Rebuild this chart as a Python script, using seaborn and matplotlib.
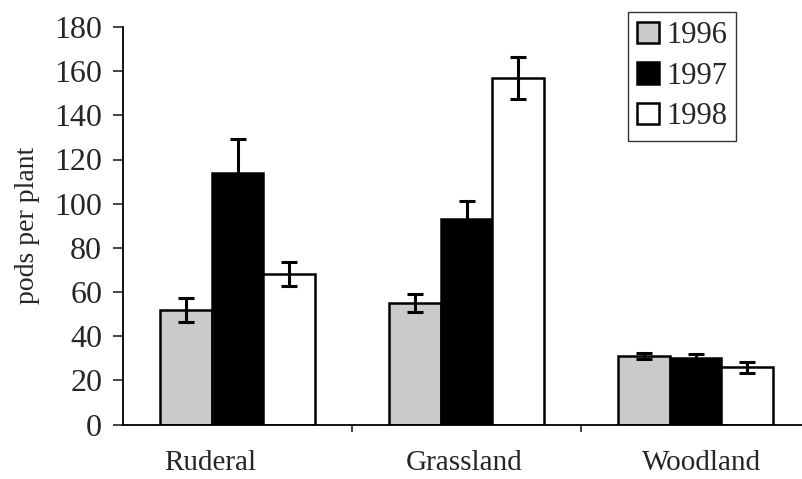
import numpy as np
import pandas as pd
import matplotlib
matplotlib.use("Agg")
import matplotlib.pyplot as plt
import matplotlib.transforms as mtransforms
import seaborn as sns
from matplotlib.ticker import FixedLocator

# ---- data ----
habitats = ["Ruderal", "Grassland", "Woodland"]
years = ["1996", "1997", "1998"]
pods_1996 = [52, 55, 31]
pods_1997 = [114, 93, 30]
pods_1998 = [68, 157, 26]
err_1996 = [5.5, 4, 1.5]
err_1997 = [15.5, 8, 2]
err_1998 = [5.5, 9.5, 2.5]
y_ticks = [0, 20, 40, 60, 80, 100, 120, 140, 160, 180]

means = {"1996": pods_1996, "1997": pods_1997, "1998": pods_1998}
errs = {"1996": err_1996, "1997": err_1997, "1998": err_1998}
rows = []
for yr in years:
    for h, v in zip(habitats, means[yr]):
        rows.append({"habitat": h, "year": yr, "pods": v})
df = pd.DataFrame(rows)

sns.set_style("ticks")
plt.rcParams["font.family"] = ["Liberation Serif", "DejaVu Serif"]

fig = plt.figure(figsize=(8.02, 4.79), dpi=100)
ax = fig.add_axes([123 / 802, (479 - 424.5) / 479, (802 - 123) / 802, (424.5 - 27) / 479])

palette = {"1996": "#cacaca", "1997": "#000000", "1998": "#ffffff"}
sns.barplot(data=df, x="habitat", y="pods", hue="year", order=habitats,
            hue_order=years, palette=palette, width=0.68, errorbar=None,
            edgecolor="black", linewidth=1.8, saturation=1, ax=ax)

for yr, cont in zip(years, ax.containers):
    xs = [p.get_x() + p.get_width() / 2 for p in cont.patches]
    hs = [p.get_height() for p in cont.patches]
    ax.errorbar(xs, hs, yerr=errs[yr], fmt="none", ecolor="black",
                elinewidth=2.2, capsize=5.5, capthick=2.2, zorder=5)

ax.set_ylim(0, 180)
ax.set_xlim(-0.5, -0.5 + 679 / 229)
ax.set_yticks(y_ticks)
ax.set_yticklabels([str(t) for t in y_ticks])
ax.set_xlabel("")
ax.set_ylabel("pods per plant", fontsize=20, labelpad=10)
ax.tick_params(axis="y", labelsize=23, length=7, width=1.2, direction="out", pad=8)

# category labels (placed as text under each category, slight scan offsets)
ax.set_xticks(range(len(habitats)))
ax.set_xticklabels([])
ax.tick_params(axis="x", which="major", length=0)
label_dx = [-27, -2, 6]  # pixel offsets seen in the reference
for i, (name, dx) in enumerate(zip(habitats, label_dx)):
    off = mtransforms.ScaledTranslation(dx / 100, -46 / 100, fig.dpi_scale_trans)
    ax.text(i, 0, name, transform=ax.get_xaxis_transform() + off,
            ha="center", va="baseline", fontsize=21)

ax.xaxis.set_minor_locator(FixedLocator([0.5, 1.5]))
ax.tick_params(axis="x", which="minor", length=5, width=1.2, direction="out")

sns.despine(ax=ax, top=True, right=True)
for s in ["left", "bottom"]:
    ax.spines[s].set_linewidth(1.3)
    ax.spines[s].set_color("black")

leg = ax.legend(title=None, loc="upper left", bbox_to_anchor=(628 / 802, 1 - 12 / 479),
                bbox_transform=fig.transFigure, fontsize=22, frameon=True,
                fancybox=False, edgecolor="black", handlelength=0.7,
                handleheight=0.7, handletextpad=0.25, labelspacing=0.38,
                borderpad=0.3, borderaxespad=0)
leg.get_frame().set_linewidth(1.0)

fig.savefig("out.png", dpi=100, facecolor="white")
